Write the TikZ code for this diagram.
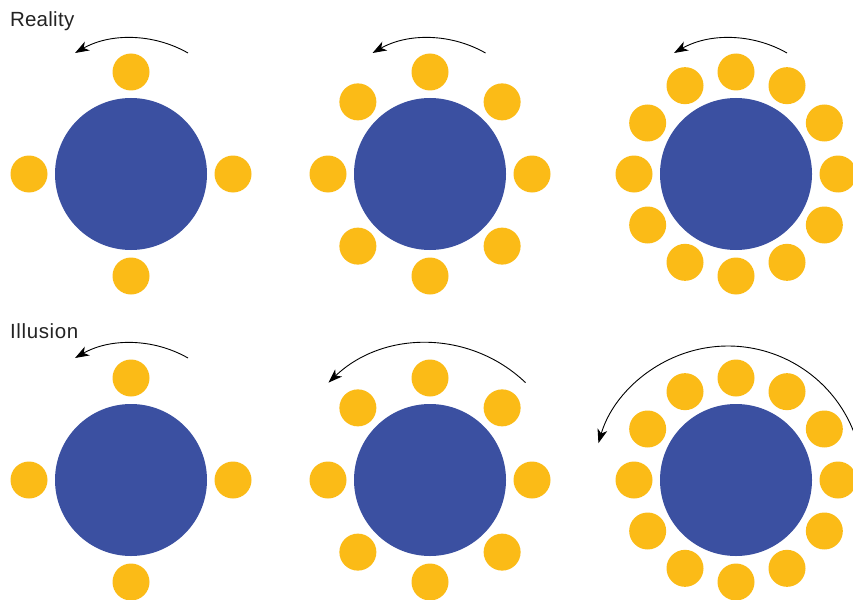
\documentclass[tikz,border=0pt]{standalone}
\usepackage{fontspec}
\setmainfont{Liberation Sans}
\usetikzlibrary{arrows.meta,calc}
\definecolor{tblue}{RGB}{59,80,161}
\definecolor{tyel}{RGB}{251,187,23}
\definecolor{tlab}{RGB}{35,35,35}
\begin{document}
\begin{tikzpicture}[x=1pt,y=-1pt,
  tablebox/.style={circle,fill=tblue,minimum size=152pt,inner sep=0pt},
  seat/.style={circle,fill=tyel,minimum size=37pt,inner sep=0pt},
  lab/.style={anchor=base west,inner sep=0pt,text=tlab,font=\fontsize{20.5pt}{23pt}\selectfont},
  arr/.style={line width=0.9pt,-{Stealth[length=14pt,width=10pt,inset=4pt]}}]
\useasboundingbox (0,0) rectangle (853,599);
\fill[white] (0,0) rectangle (853,599);
\node[lab] (reality) at (10,27) {Re\kern0.3pt a\kern0.3pt l\kern0.3pt i\kern0.3pt t\kern0.3pt y};
\node[lab] (illusion) at (10,338) {I\kern0.6pt l\kern0.6pt l\kern0.6pt u\kern0.6pt s\kern0.6pt i\kern0.6pt o\kern0.6pt n};
% tables and seats
\foreach \cx/\cy/\n/\tn in {131/174/4/a, 430/174/8/b, 736/174/12/c, 131/480/4/d, 430/480/8/e, 736/480/12/f}{
  \node[tablebox] (t\tn) at (\cx,\cy) {};
  \pgfmathsetmacro{\stp}{360/\n}
  \foreach \k in {1,...,\n}{
    \node[seat] (s\tn\k) at ($(\cx,\cy)+({102*cos((\k-1)*\stp)},{102*sin((\k-1)*\stp)})$) {};
  }
}
% arrows
\coordinate (aa) at (188,53);
\coordinate (ab) at (485.5,53);
\coordinate (ac) at (787,53);
\coordinate (ad) at (188,358);
\coordinate (ae) at (525.5,382.6);
\coordinate (af) at (858.4,446.1);
\draw[arr] (aa) arc[start angle=-60.3, end angle=-119.7, radius=114];
\draw[arr] (ab) arc[start angle=-60.3, end angle=-119.7, radius=114];
\draw[arr] (ac) arc[start angle=-60.3, end angle=-119.7, radius=114];
\draw[arr] (ad) arc[start angle=-60.3, end angle=-119.7, radius=114];
\draw[arr] (ae) arc[start angle=-46.3, end angle=-133.7, radius=142.6];
\begin{scope}
\clip (0,0) rectangle (853,599);
\draw[arr] (af) arc[start angle=-15, end angle=-163.7, radius=135];
\end{scope}
\end{tikzpicture}
\end{document}
